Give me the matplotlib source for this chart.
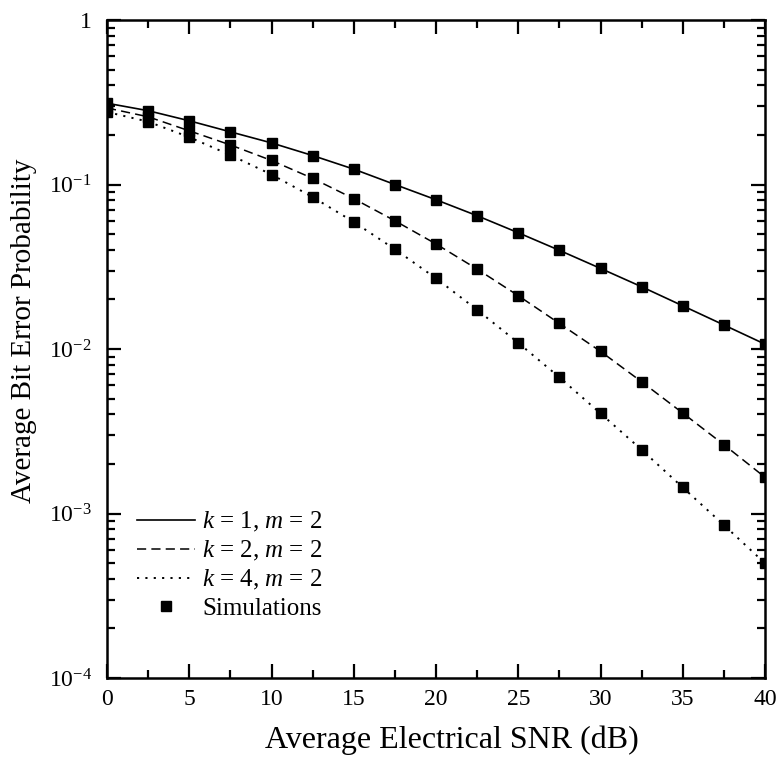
import numpy as np
import matplotlib
matplotlib.use("Agg")
import matplotlib.pyplot as plt
from matplotlib.ticker import FixedLocator, LogLocator, FuncFormatter, NullFormatter

# --- Data ---
SNR_DB = [0, 2.5, 5, 7.5, 10, 12.5, 15, 17.5, 20, 22.5, 25, 27.5, 30, 32.5, 35, 37.5, 40]

BER_K1 = [0.312, 0.281, 0.244, 0.209, 0.179, 0.150, 0.124, 0.100, 0.0808, 0.0646,
          0.0509, 0.0398, 0.0309, 0.0239, 0.0183, 0.0140, 0.0107]
BER_K2 = [0.292, 0.258, 0.212, 0.174, 0.140, 0.109, 0.0820, 0.0602, 0.0435, 0.0306,
          0.0211, 0.0143, 0.00968, 0.00632, 0.00408, 0.00262, 0.00166]
BER_K4 = [0.276, 0.241, 0.194, 0.151, 0.115, 0.0839, 0.0592, 0.0404, 0.0269, 0.0173,
          0.0109, 0.00673, 0.00406, 0.00244, 0.00144, 0.000851, 0.000498]

LABELS = [r"$\mathit{k}$ = 1, $\mathit{m}$ = 2",
          r"$\mathit{k}$ = 2, $\mathit{m}$ = 2",
          r"$\mathit{k}$ = 4, $\mathit{m}$ = 2"]

plt.rcParams["font.family"] = "Liberation Serif"
plt.rcParams["mathtext.fontset"] = "custom"
plt.rcParams["mathtext.rm"] = "Liberation Serif"
plt.rcParams["mathtext.it"] = "Liberation Serif:italic"
plt.rcParams["mathtext.default"] = "rm"

W, H = 779, 766
fig = plt.figure(figsize=(W / 100, H / 100), dpi=100)
ax = fig.add_axes([107 / W, 1 - 678 / H, (765 - 107) / W, (678 - 20) / H])

ax.plot(SNR_DB, BER_K1, color="black", lw=1.2, ls="-", label=LABELS[0])
ax.plot(SNR_DB, BER_K2, color="black", lw=1.1, ls=(0, (6.0, 3.4)), label=LABELS[1])
ax.plot(SNR_DB, BER_K4, color="black", lw=1.4, ls=(0, (1.1, 3.2)), label=LABELS[2])

sim_x = SNR_DB * 3
sim_y = BER_K1 + BER_K2 + BER_K4
ax.plot(sim_x, sim_y, ls="none", marker="s", ms=6.8, color="black", label="Simulations")

ax.set_yscale("log")
ax.set_xlim(0, 40)
ax.set_ylim(1e-4, 1)

ax.xaxis.set_major_locator(FixedLocator(np.arange(0, 41, 5)))
ax.xaxis.set_minor_locator(FixedLocator(np.arange(2.5, 40, 5)))
ax.yaxis.set_major_locator(LogLocator(base=10, numticks=10))
ax.yaxis.set_minor_locator(LogLocator(base=10, subs=np.arange(2, 10), numticks=20))
ax.yaxis.set_minor_formatter(NullFormatter())


def log_fmt(v, pos):
    e = int(round(np.log10(v)))
    if e == 0:
        return "1"
    return r"$10^{%d}$" % e


ax.yaxis.set_major_formatter(FuncFormatter(log_fmt))

for s in ax.spines.values():
    s.set_linewidth(1.8)
ax.tick_params(which="both", direction="in", top=True, right=True, width=1.6)
ax.tick_params(which="major", length=10)
ax.tick_params(which="minor", length=6)
ax.tick_params(axis="x", which="major", labelsize=17, pad=8)
ax.tick_params(axis="y", which="major", labelsize=17, pad=11)

fig.text(452 / W, 1 - 748 / H, "Average Electrical SNR (dB)", fontsize=23,
         ha="center", va="baseline")
fig.text(24 / W, 1 - 331 / H, "Average Bit Error Probability", fontsize=21,
         ha="center", va="center", rotation=90)

leg = ax.legend(loc="upper left", bbox_to_anchor=(30 / 658, 1 - (510 - 20) / 658),
                frameon=False, fontsize=18, handlelength=2.3, handletextpad=0.3,
                labelspacing=0.2, borderpad=0, borderaxespad=0, numpoints=1)

fig.savefig("out.png", dpi=100)
